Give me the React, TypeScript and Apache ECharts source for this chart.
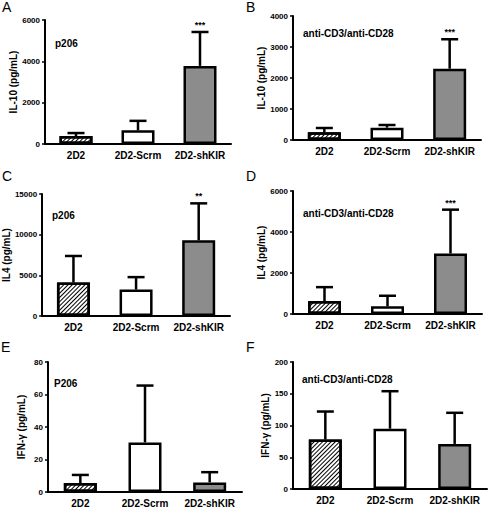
import React, { useEffect, useRef } from 'react';
import * as echarts from 'echarts';

const categories = ['2D2', '2D2-Scrm', '2D2-shKIR'];

// Panel A: IL-10, p206
const il10P206Mean = [385, 660, 3780];
const il10P206Top = [530, 1120, 5420];
const il10P206Stars = ['', '', '***'];
// Panel B: IL-10, anti-CD3/anti-CD28
const il10CD3Mean = [247, 398, 2300];
const il10CD3Top = [387, 484, 3250];
const il10CD3Stars = ['', '', '***'];
// Panel C: IL4, p206
const il4P206Mean = [4120, 3250, 9310];
const il4P206Top = [7380, 4780, 13850];
const il4P206Stars = ['', '', '**'];
// Panel D: IL4, anti-CD3/anti-CD28
const il4CD3Mean = [630, 373, 2950];
const il4CD3Top = [1310, 890, 5090];
const il4CD3Stars = ['', '', '***'];
// Panel E: IFN-γ, P206
const ifnP206Mean = [5.5, 30.5, 5.9];
const ifnP206Top = [10.5, 65.5, 12.2];
const ifnP206Stars = ['', '', ''];
// Panel F: IFN-γ, anti-CD3/anti-CD28
const ifnCD3Mean = [78, 95, 71];
const ifnCD3Top = [122, 154, 120];
const ifnCD3Stars = ['', '', ''];

const yMaxes = [6000, 4000, 15000, 6000, 80, 200];
const yIntervals = [2000, 1000, 5000, 2000, 20, 50];
const yNames = ['IL-10 (pg/mL)', 'IL-10 (pg/mL)', 'IL4 (pg/mL)', 'IL4 (pg/mL)', 'IFN-γ (pg/mL)', 'IFN-γ (pg/mL)'];
const letters = ['A', 'B', 'C', 'D', 'E', 'F'];
const notes = ['p206', 'anti-CD3/anti-CD28', 'p206', 'anti-CD3/anti-CD28', 'P206', 'anti-CD3/anti-CD28'];

const means = [il10P206Mean, il10CD3Mean, il4P206Mean, il4CD3Mean, ifnP206Mean, ifnCD3Mean];
const tops = [il10P206Top, il10CD3Top, il4P206Top, il4CD3Top, ifnP206Top, ifnCD3Top];
const stars = [il10P206Stars, il10CD3Stars, il4P206Stars, il4CD3Stars, ifnP206Stars, ifnCD3Stars];

// layout (pixels)
const grids = [
  { left: 45, top: 20, width: 186, height: 124 },
  { left: 293, top: 16, width: 188, height: 124 },
  { left: 40, top: 194, width: 190, height: 122 },
  { left: 293, top: 191, width: 189, height: 123 },
  { left: 48, top: 362, width: 194, height: 131 },
  { left: 293, top: 362, width: 194, height: 127 },
];
const nameGaps = [23, 24, 25, 24, 22, 22];
const letterPos = [[2, 0], [246, 0], [2, 169], [246, 169], [1, 340], [246, 340]];
const notePos = [[55, 43], [303, 33], [52, 215], [303, 213], [54, 383], [302, 379]];

const FONT = 'Liberation Sans, Arial, Helvetica, sans-serif';

export default function App() {
  const ref = useRef<HTMLDivElement>(null);
  useEffect(() => {
    document.body.style.margin = '0';
    if (!ref.current) return;
    const chart = echarts.init(ref.current, null, { renderer: 'svg' });

    const hatch = {
      symbol: 'rect',
      symbolSize: 1,
      color: '#000',
      dashArrayX: [1, 0],
      dashArrayY: [1, 2],
      rotation: -Math.PI / 4,
    };
    const barColors = ['#ffffff', '#ffffff', '#8c8c8c'];

    const series: any[] = [];
    const graphic: any[] = [];
    grids.forEach((g, k) => {
      series.push({
        type: 'bar',
        xAxisIndex: k,
        yAxisIndex: k,
        barWidth: 33,
        z: 2,
        data: means[k].map((v, i) => ({
          value: v,
          itemStyle: {
            color: barColors[i],
            borderColor: '#000',
            borderWidth: 2.5,
            decal: i === 0 ? hatch : undefined,
          },
        })),
      });
      const st = stars[k];
      series.push({
        type: 'custom',
        xAxisIndex: k,
        yAxisIndex: k,
        z: 3,
        encode: { x: 0, y: 1 },
        data: categories.map((c, i) => [c, tops[k][i], means[k][i]]),
        renderItem: (params: any, api: any) => {
          const idx = api.value(0);
          const top = api.coord([idx, api.value(1)]);
          const base = api.coord([idx, api.value(2)]);
          const style = { stroke: '#000', lineWidth: 2.5 };
          const children: any[] = [
            { type: 'line', shape: { x1: base[0], y1: base[1], x2: top[0], y2: top[1] }, style },
            { type: 'line', shape: { x1: top[0] - 8.5, y1: top[1], x2: top[0] + 8.5, y2: top[1] }, style },
          ];
          const s = st[params.dataIndex];
          if (s) {
            children.push({
              type: 'text',
              style: {
                text: s,
                x: top[0],
                y: top[1] - 7,
                align: 'center',
                verticalAlign: 'middle',
                fontSize: 9,
                fontWeight: 'bold',
                fontFamily: FONT,
                fill: '#000',
              },
            });
          }
          return { type: 'group', children };
        },
      });
      graphic.push({
        type: 'text',
        x: letterPos[k][0],
        y: letterPos[k][1],
        style: { text: letters[k], fontSize: 14, fontFamily: FONT, fill: '#000' },
      });
      graphic.push({
        type: 'text',
        x: notePos[k][0],
        y: notePos[k][1],
        style: {
          text: notes[k],
          fontSize: 10,
          fontWeight: 'bold',
          fontFamily: FONT,
          fill: '#000',
          verticalAlign: 'middle',
        },
      });
    });

    chart.setOption({
      animation: false,
      backgroundColor: '#fff',
      grid: grids.map((g) => ({ ...g, containLabel: false })),
      xAxis: grids.map((g, k) => ({
        type: 'category',
        gridIndex: k,
        data: categories,
        axisLine: { lineStyle: { color: '#000', width: 2 } },
        axisTick: { show: false },
        axisLabel: {
          color: '#000',
          fontSize: 10,
          fontWeight: 'bold',
          fontFamily: FONT,
          margin: 6,
          interval: 0,
        },
      })),
      yAxis: grids.map((g, k) => ({
        type: 'value',
        gridIndex: k,
        min: 0,
        max: yMaxes[k],
        interval: yIntervals[k],
        name: yNames[k],
        nameLocation: 'middle',
        nameGap: nameGaps[k],
        nameTextStyle: { color: '#000', fontSize: 10, fontWeight: 'bold', fontFamily: FONT },
        splitLine: { show: false },
        axisLine: { show: true, lineStyle: { color: '#000', width: 2 } },
        axisTick: { show: true, length: 3, lineStyle: { color: '#000', width: 1.5 } },
        axisLabel: {
          color: '#000',
          fontSize: 8,
          fontWeight: 'bold',
          fontFamily: FONT,
          margin: 5,
          formatter: (v: number) => String(v),
        },
      })),
      series,
      graphic,
    });
    return () => chart.dispose();
  }, []);
  return <div ref={ref} style={{ width: 488, height: 508 }} />;
}
